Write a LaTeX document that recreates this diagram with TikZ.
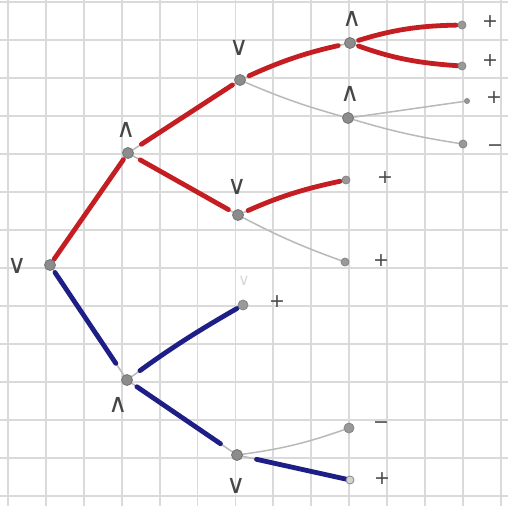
\documentclass[tikz,border=0pt]{standalone}
\usepackage{fontspec}
\usepackage{tikz}
\newfontfamily\markfont{DejaVu Sans}
\definecolor{penred}{RGB}{196,30,34}
\definecolor{penblue}{RGB}{30,30,135}
\definecolor{ink}{RGB}{70,70,70}
\definecolor{gridc}{RGB}{218,218,218}
\tikzset{
  gridline/.style={draw=gridc, line width=1.8pt},
  inner/.style={circle, fill=gray!90, draw=gray!90!black, line width=0.8pt, minimum size=11pt, inner sep=0pt},
  leaf/.style={circle, fill=gray!80, draw=gray!95, line width=0.8pt, minimum size=8pt, inner sep=0pt},
  thin/.style={draw=gray!55, line width=1.5pt, line cap=round},
  redl/.style={draw=penred, line width=4.8pt, line cap=round},
  bluel/.style={draw=penblue, line width=4.8pt, line cap=round},
  lab/.style={text=ink, inner sep=0pt, font=\markfont\fontsize{26}{30}\selectfont},
  sgn/.style={text=ink, inner sep=0pt, font=\markfont\fontsize{19}{22}\selectfont}
}
\begin{document}
\begin{tikzpicture}[x=1pt,y=-1pt]
\useasboundingbox (0,0) rectangle (508,506);
\fill[white] (0,0) rectangle (508,506);
\foreach \i in {0,...,13} {\draw[gridline] ({8+37.9*\i},0) -- ({8+37.9*\i},506);}
\foreach \j in {0,...,13} {\draw[gridline] (0,{2+38*\j}) -- (508,{2+38*\j});}

% coordinates of nodes
\coordinate (R) at (50,265);
\coordinate (A1) at (128,153);
\coordinate (B1) at (240,80);
\coordinate (C1) at (350,43);
\coordinate (L1) at (462,25);
\coordinate (L2) at (462,66);
\coordinate (C2) at (348,118);
\coordinate (L3) at (467,101);
\coordinate (L4) at (463,144);
\coordinate (B2) at (238,215);
\coordinate (L5) at (346,180);
\coordinate (L6) at (345,262);
\coordinate (A2) at (127,380);
\coordinate (L7) at (243,305);
\coordinate (B3) at (237,455);
\coordinate (L8) at (349,428);
\coordinate (L9) at (350,480);

% thin gray connectors
\draw[thin] (R) -- (A1);
\draw[thin] (A1) -- (B1);
\draw[thin] (A1) -- (B2);
\draw[thin] (B1) to[bend left=6] (C1);
\draw[thin] (C1) to[bend left=8] (L1);
\draw[thin] (C1) to[bend right=8] (L2);
\draw[thin] (B1) to[bend right=4] (C2);
\draw[thin] (C2) -- (L3);
\draw[thin] (C2) to[bend right=4] (L4);
\draw[thin] (B2) to[bend left=6] (L5);
\draw[thin] (B2) to[bend right=4] (L6);
\draw[thin] (R) -- (A2);
\draw[thin] (A2) to[bend left=3] (L7);
\draw[thin] (A2) -- (B3);
\draw[thin] (B3) to[bend right=6] (L8);
\draw[thin] (B3) -- (L9);

% thick coloured connectors
\draw[redl, shorten <=7pt, shorten >=8pt] (R) -- (A1);
\draw[redl, shorten <=16pt, shorten >=9pt] (A1) -- (B1);
\draw[redl, shorten <=14pt, shorten >=11pt] (A1) -- (B2);
\draw[redl, shorten <=10pt, shorten >=12pt] (B1) to[bend left=6] (C1);
\draw[redl, shorten <=9pt, shorten >=6pt] (C1) to[bend left=8] (L1);
\draw[redl, shorten <=9pt, shorten >=1pt] (C1) to[bend right=8] (L2);
\draw[redl, shorten <=11pt, shorten >=6pt] (B2) to[bend left=6] (L5);
\draw[bluel, shorten <=9pt, shorten >=20pt] (R) -- (A2);
\draw[bluel, shorten <=16pt, shorten >=7pt] (A2) to[bend left=3] (L7);
\draw[bluel, shorten <=12pt, shorten >=20pt] (A2) -- (B3);
\draw[bluel, shorten <=20pt, shorten >=3pt] (B3) -- (L9);

% nodes
\node[inner] (nR) at (R) {};
\node[inner] (nA1) at (A1) {};
\node[inner] (nB1) at (B1) {};
\node[inner] (nC1) at (C1) {};
\node[inner] (nC2) at (C2) {};
\node[inner] (nB2) at (B2) {};
\node[inner] (nA2) at (A2) {};
\node[inner] (nB3) at (B3) {};
\node[leaf] (nL1) at (L1) {};
\node[leaf] (nL2) at (L2) {};
\node[leaf, minimum size=5pt] (nL3) at (L3) {};
\node[leaf] (nL4) at (L4) {};
\node[leaf] (nL5) at (L5) {};
\node[leaf] (nL6) at (L6) {};
\node[leaf, minimum size=10pt] (nL7) at (L7) {};
\node[leaf, minimum size=10pt] (nL8) at (L8) {};
\node[leaf, fill=gray!35] (nL9) at (L9) {};

% operator labels
\node[lab] (tR) at (17,266) {∨};
\node[lab] (tA1) at (126,130) {∧};
\node[lab] (tB1) at (239,48) {∨};
\node[lab] (tC1) at (352,19) {∧};
\node[lab] (tC2) at (350,94) {∧};
\node[lab] (tB2) at (237,187) {∨};
\node[lab] (tA2) at (118,405) {∧};
\node[lab] (tB3) at (236,486) {∨};
\node[lab, text=gray!30, font=\markfont\fontsize{16}{18}\selectfont] (tX) at (244,281) {∨};

% leaf values
\node[sgn] (sL1) at (490,22) {+};
\node[sgn] (sL2) at (490,61) {+};
\node[sgn] (sL3) at (494,98) {+};
\node[sgn] (sL4) at (495,148) {−};
\node[sgn] (sL5) at (385,178) {+};
\node[sgn] (sL6) at (381,261) {+};
\node[sgn] (sL7) at (277,302) {+};
\node[sgn] (sL8) at (381,425) {−};
\node[sgn] (sL9) at (382,479) {+};
\end{tikzpicture}
\end{document}
